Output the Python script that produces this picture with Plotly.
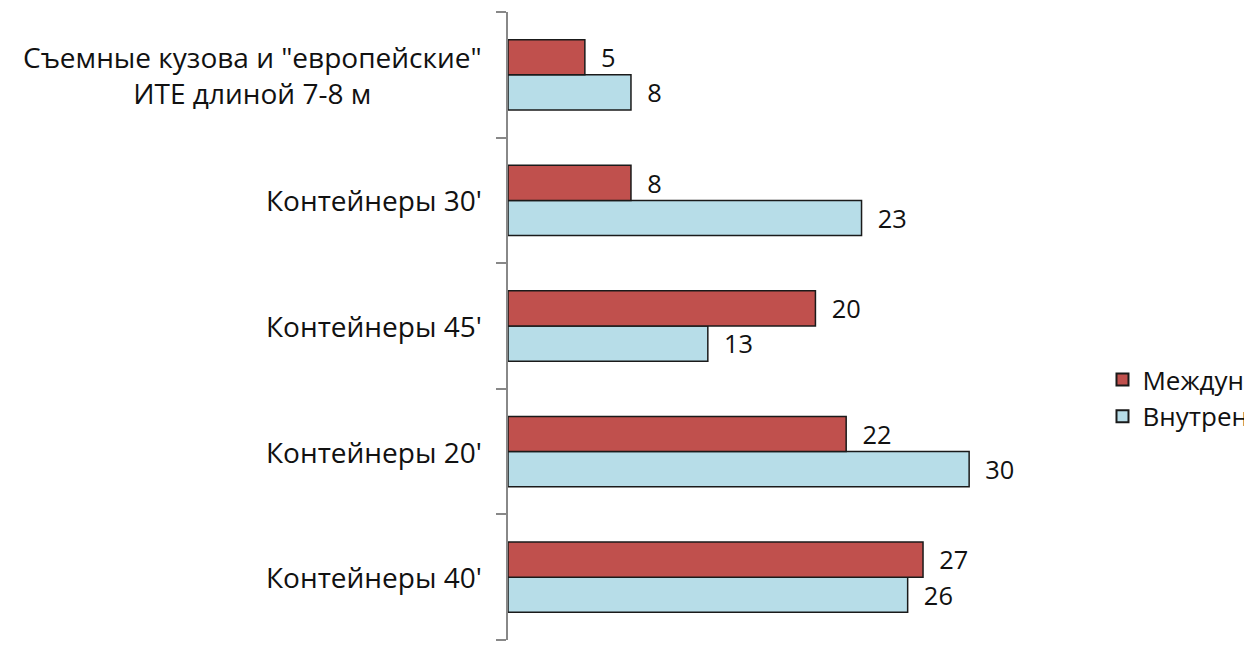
import plotly.graph_objects as go

categories = [
    "Контейнеры 40'",
    "Контейнеры 20'",
    "Контейнеры 45'",
    "Контейнеры 30'",
    "Съемные кузова и \"европейские\"<br>ИТЕ длиной 7-8 м",
]
international = [27, 22, 20, 8, 5]
domestic = [26, 30, 13, 23, 8]
series_names = ["Международные перевозки", "Внутренние перевозки"]

RED = "#C0504D"
BLUE = "#B7DDE8"
FONT = "Open Sans"
FS_CAT = 28
FS_VAL = 26
FS_LEG = 26

fig = go.Figure()
fig.add_trace(go.Bar(
    y=categories, x=domestic, orientation="h", name=series_names[1],
    marker=dict(color=BLUE, line=dict(color="#1a1a1a", width=1.5)),
    text=domestic, texttemplate="  %{text}", textposition="outside", cliponaxis=False,
    textfont=dict(family=FONT, size=FS_VAL, color="#111"),
))
fig.add_trace(go.Bar(
    y=categories, x=international, orientation="h", name=series_names[0],
    marker=dict(color=RED, line=dict(color="#1a1a1a", width=1.5)),
    text=international, texttemplate="  %{text}", textposition="outside", cliponaxis=False,
    textfont=dict(family=FONT, size=FS_VAL, color="#111"),
))

for c in categories:
    fig.add_annotation(
        x=0, xref="paper", y=c, yref="y", text=c, showarrow=False,
        xanchor="right", align="center", xshift=-24,
        font=dict(family=FONT, size=FS_CAT, color="#111"),
    )

fig.update_layout(
    width=1244, height=653,
    margin=dict(l=508, r=198, t=12, b=13, autoexpand=False),
    plot_bgcolor="white", paper_bgcolor="white",
    barmode="group", bargap=0.44, bargroupgap=0.0,
    showlegend=True,
    legend=dict(
        x=1.105, y=0.452, xanchor="left", yanchor="top",
        traceorder="reversed",
        font=dict(family=FONT, size=FS_LEG, color="#111"),
        bgcolor="rgba(0,0,0,0)", itemsizing="constant",
        tracegroupgap=0,
    ),
    xaxis=dict(range=[0, 35], visible=False),
    yaxis=dict(
        type="category", categoryorder="array", categoryarray=categories,
        showline=True, linecolor="#888888", linewidth=1.5,
        ticks="outside", ticklen=10, tickcolor="#888888", tickwidth=1.5,
        tickson="boundaries", showticklabels=False, showgrid=False,
        zeroline=False,
    ),
)

fig.write_html("out.html")
